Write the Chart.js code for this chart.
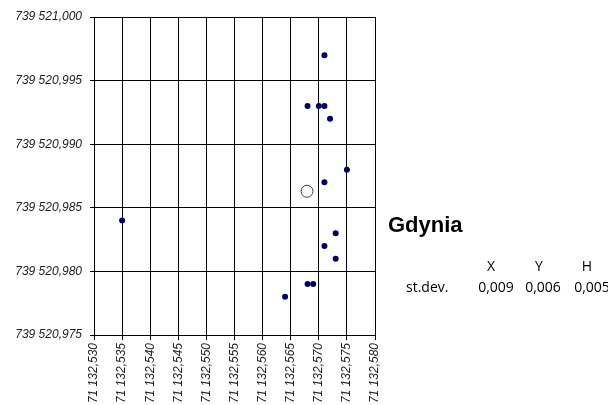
<!DOCTYPE html>
<html>
<head>
<meta charset="utf-8">
<script src="https://cdn.jsdelivr.net/npm/chart.js@4"></script>
<style>
  html, body { margin: 0; padding: 0; background: #fff; }
  #wrap { position: relative; width: 608px; height: 405px; overflow: hidden; }
  canvas { position: absolute; left: 0; top: 0; }
  .t { position: absolute; white-space: nowrap; color: #000; }
  .title { font-family: "Liberation Sans", Arial, sans-serif; font-weight: bold; font-size: 22px; line-height: 22px; }
  .s { font-family: "Open Sans", sans-serif; font-size: 14px; line-height: 14px; transform: translateX(-50%); }
  .s0 { font-family: "Open Sans", sans-serif; font-size: 14px; line-height: 14px; }
</style>
</head>
<body>
<div id="wrap">
  <canvas id="c" width="608" height="405"></canvas>
  <div class="t title" style="left:388px; top:214px;">Gdynia</div>
  <div class="t s" id="h0" style="left:491px; top:259px;"></div>
  <div class="t s" id="h1" style="left:539px; top:259px;"></div>
  <div class="t s" id="h2" style="left:587px; top:259px;"></div>
  <div class="t s0" style="left:406px; top:280px;">st.dev.</div>
  <div class="t s" id="v0" style="left:496px; top:280px;"></div>
  <div class="t s" id="v1" style="left:543px; top:280px;"></div>
  <div class="t s" id="v2" style="left:592px; top:280px;"></div>
</div>
<script>
// Observation points
const pointX = [71132.571, 71132.568, 71132.570, 71132.571, 71132.572, 71132.575, 71132.571,
                71132.573, 71132.571, 71132.573, 71132.535, 71132.564, 71132.568, 71132.569];
const pointY = [739520.997, 739520.993, 739520.993, 739520.993, 739520.992, 739520.988, 739520.987,
                739520.983, 739520.982, 739520.981, 739520.984, 739520.978, 739520.979, 739520.979];
// Mean position
const meanX = [71132.5679];
const meanY = [739520.9863];
// Axes ticks
const xTickValues = [71132.530, 71132.535, 71132.540, 71132.545, 71132.550, 71132.555,
                     71132.560, 71132.565, 71132.570, 71132.575, 71132.580];
const xTickLabels = ["71 132,530", "71 132,535", "71 132,540", "71 132,545", "71 132,550", "71 132,555",
                     "71 132,560", "71 132,565", "71 132,570", "71 132,575", "71 132,580"];
const yTickValues = [739520.975, 739520.980, 739520.985, 739520.990, 739520.995, 739521.000];
const yTickLabels = ["739 520,975", "739 520,980", "739 520,985", "739 520,990", "739 520,995", "739 521,000"];
// Statistics
const statHeaders = ["X", "Y", "H"];
const statValues = ["0,009", "0,006", "0,005"];

statHeaders.forEach((h, i) => { document.getElementById('h' + i).textContent = h; });
statValues.forEach((v, i) => { document.getElementById('v' + i).textContent = v; });

const tickFont = { family: "'Liberation Sans', Arial, sans-serif", size: 12, style: 'italic' };

new Chart(document.getElementById('c'), {
  type: 'scatter',
  data: {
    datasets: [
      {
        data: pointX.map((x, i) => ({ x: x, y: pointY[i] })),
        backgroundColor: '#000060',
        borderWidth: 0,
        pointRadius: 3,
        order: 2
      },
      {
        data: meanX.map((x, i) => ({ x: x, y: meanY[i] })),
        backgroundColor: '#ffffff',
        borderColor: '#444444',
        borderWidth: 1,
        pointRadius: 6,
        order: 1
      }
    ]
  },
  options: {
    responsive: false,
    animation: false,
    events: [],
    layout: { padding: { top: 17, right: 233, left: 0, bottom: 0 } },
    plugins: { legend: { display: false }, tooltip: { enabled: false } },
    scales: {
      x: {
        type: 'linear',
        min: xTickValues[0],
        max: xTickValues[xTickValues.length - 1],
        afterBuildTicks: s => { s.ticks = xTickValues.map(v => ({ value: v })); },
        afterFit: s => { s.height = 70; },
        ticks: {
          autoSkip: false, minRotation: 90, maxRotation: 90,
          font: tickFont, color: '#222', padding: 3,
          callback: (v, i) => xTickLabels[i]
        },
        grid: { color: '#000', lineWidth: 1, tickLength: 5 },
        border: { color: '#000', width: 1 }
      },
      y: {
        type: 'linear',
        min: yTickValues[0],
        max: yTickValues[yTickValues.length - 1],
        afterBuildTicks: s => { s.ticks = yTickValues.map(v => ({ value: v })); },
        afterFit: s => { s.width = 94; },
        ticks: {
          autoSkip: false,
          font: tickFont, color: '#222', padding: 8,
          callback: (v, i) => yTickLabels[i]
        },
        grid: { color: '#000', lineWidth: 1, tickLength: 4 },
        border: { color: '#000', width: 1 }
      }
    }
  }
});
</script>
</body>
</html>
